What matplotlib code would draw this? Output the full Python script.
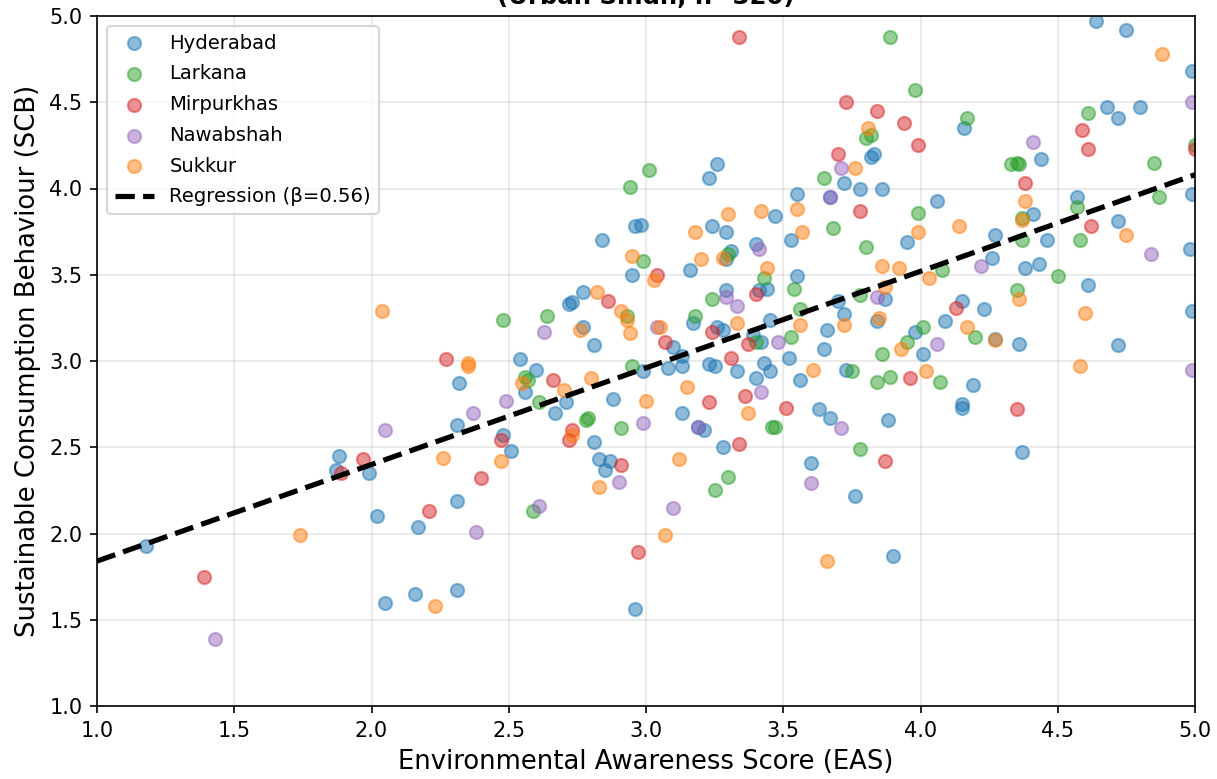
import matplotlib
matplotlib.use("Agg")
import matplotlib.pyplot as plt
import numpy as np

# ---- data ----
cities = ["Hyderabad", "Larkana", "Mirpurkhas", "Nawabshah", "Sukkur"]
city_colors = ["#1f77b4", "#2ca02c", "#d62728", "#9467bd", "#ff7f0e"]

hyd_x = [1.18, 1.88, 1.87, 1.99, 2.02, 2.05, 2.17, 2.16, 2.31, 2.31, 2.31, 2.32, 2.54, 2.51, 2.48,
         2.56, 2.60, 2.67, 2.71, 2.73, 2.72, 2.77, 2.77, 2.81, 2.81, 2.83, 2.85, 2.87, 2.84, 2.88,
         2.95, 2.96, 2.96, 2.98, 2.99, 3.08, 3.10, 3.13, 3.13, 3.16, 3.17, 3.13, 3.19, 3.21, 3.23,
         3.26, 3.23, 3.24, 3.26, 3.25, 3.28, 3.29, 3.29, 3.31, 3.29, 3.28, 3.33, 3.39, 3.40, 3.41,
         3.42, 3.43, 3.45, 3.45, 3.47, 3.44, 3.40, 3.52, 3.55, 3.53, 3.55, 3.56, 3.60, 3.63, 3.65,
         3.67, 3.66, 3.67, 3.70, 3.72, 3.72, 3.73, 3.76, 3.78, 3.82, 3.83, 3.84, 3.86, 3.88, 3.87,
         3.90, 3.95, 3.98, 4.01, 4.06, 4.09, 4.15, 4.15, 4.15, 4.16, 4.19, 4.23, 4.26, 4.27, 4.27,
         4.36, 4.37, 4.38, 4.41, 4.43, 4.44, 4.46, 4.57, 4.61, 4.64, 4.68, 4.72, 4.72, 4.72, 4.75,
         4.80, 4.99, 4.99, 4.98, 4.99]
hyd_y = [1.93, 2.45, 2.37, 2.35, 2.10, 1.60, 2.04, 1.65, 1.67, 2.19, 2.63, 2.87, 3.01, 2.48, 2.57,
         2.82, 2.95, 2.70, 2.76, 3.34, 3.33, 3.40, 3.20, 3.09, 2.53, 2.43, 2.37, 2.42, 3.70, 2.78,
         3.50, 1.56, 3.78, 3.79, 2.94, 2.96, 3.08, 3.03, 2.70, 3.53, 3.22, 2.97, 2.62, 2.60, 4.06,
         4.14, 2.98, 3.78, 3.20, 2.97, 2.50, 3.59, 3.41, 3.64, 3.75, 3.18, 2.94, 3.15, 3.68, 3.41,
         3.11, 2.99, 3.24, 2.94, 3.84, 3.42, 2.90, 3.02, 3.97, 3.70, 3.49, 2.89, 2.41, 2.72, 3.07,
         2.67, 3.18, 3.95, 3.35, 4.03, 3.27, 2.95, 2.22, 4.00, 4.18, 4.20, 3.23, 4.00, 2.66, 3.36,
         1.87, 3.69, 3.17, 3.04, 3.93, 3.23, 3.35, 2.75, 2.73, 4.35, 2.86, 3.30, 3.60, 3.73, 3.13,
         3.10, 2.47, 3.54, 3.85, 3.56, 4.17, 3.70, 3.95, 3.44, 4.97, 4.47, 4.41, 3.81, 3.09, 4.92,
         4.47, 4.68, 3.97, 3.65, 3.29]

lar_x = [2.48, 2.64, 2.56, 2.57, 2.61, 2.59, 2.78, 2.79, 2.91, 2.93, 2.94, 2.95, 2.99, 3.01, 3.18,
         3.24, 3.25, 3.30, 3.30, 3.40, 3.43, 3.46, 3.47, 3.54, 3.56, 3.53, 3.65, 3.68, 3.75, 3.78,
         3.80, 3.80, 3.82, 3.78, 3.84, 3.86, 3.89, 3.89, 3.95, 3.99, 3.98, 4.01, 4.07, 4.08, 4.17,
         4.20, 4.33, 4.35, 4.36, 4.35, 4.37, 4.37, 4.50, 4.57, 4.58, 4.61, 4.85, 4.87, 5.00]
lar_y = [3.24, 3.26, 2.91, 2.89, 2.76, 2.13, 2.66, 2.67, 2.61, 3.26, 4.01, 2.97, 3.58, 4.11, 3.26,
         3.36, 2.25, 2.33, 3.62, 3.11, 3.48, 2.62, 2.62, 3.42, 3.30, 3.14, 4.06, 3.77, 2.94, 2.49,
         3.66, 4.29, 4.31, 3.38, 2.88, 3.04, 2.91, 4.88, 3.11, 3.86, 4.57, 3.20, 2.88, 3.53, 4.41,
         3.14, 4.14, 4.15, 4.14, 3.41, 3.70, 3.83, 3.49, 3.89, 3.70, 4.44, 4.15, 3.95, 4.25]

mir_x = [1.39, 1.97, 1.89, 2.21, 2.27, 2.40, 2.47, 2.66, 2.72, 2.73, 2.86, 2.91, 2.97, 3.04, 3.07,
         3.23, 3.24, 3.31, 3.34, 3.34, 3.36, 3.37, 3.40, 3.51, 3.70, 3.73, 3.78, 3.84, 3.87, 3.94,
         3.96, 3.99, 4.13, 4.35, 4.38, 4.59, 4.61, 4.62, 5.00]
mir_y = [1.75, 2.43, 2.35, 2.13, 3.01, 2.32, 2.54, 2.89, 2.54, 2.60, 3.35, 2.40, 1.89, 3.50, 3.11,
         2.76, 3.17, 3.02, 4.88, 2.52, 2.80, 3.10, 3.39, 2.73, 4.20, 4.50, 3.87, 4.45, 2.42, 4.38,
         2.90, 4.25, 3.31, 2.72, 4.03, 4.34, 4.23, 3.78, 4.23]

naw_x = [1.43, 2.05, 2.37, 2.38, 2.49, 2.63, 2.61, 2.90, 2.99, 3.04, 3.10, 3.19, 3.29, 3.33, 3.41,
         3.42, 3.48, 3.60, 3.67, 3.71, 3.71, 3.84, 4.06, 4.22, 4.41, 4.84, 4.99, 4.99]
naw_y = [1.39, 2.60, 2.70, 2.01, 2.77, 3.17, 2.16, 2.30, 2.64, 3.20, 2.15, 2.62, 3.37, 3.32, 3.65,
         2.82, 3.11, 2.29, 3.95, 4.12, 2.61, 3.37, 3.10, 3.55, 4.27, 3.62, 2.95, 4.50]

suk_x = [1.74, 2.04, 2.26, 2.23, 2.35, 2.35, 2.47, 2.55, 2.70, 2.73, 2.76, 2.82, 2.80, 2.83, 2.91,
         2.93, 2.94, 2.95, 3.00, 3.03, 3.05, 3.07, 3.12, 3.15, 3.18, 3.20, 3.28, 3.30, 3.33, 3.37,
         3.42, 3.44, 3.55, 3.57, 3.56, 3.61, 3.66, 3.72, 3.76, 3.81, 3.86, 3.87, 3.85, 3.92, 3.93,
         3.99, 4.03, 4.02, 4.14, 4.17, 4.27, 4.36, 4.38, 4.37, 4.58, 4.60, 4.75, 4.88]
suk_y = [1.99, 3.29, 2.44, 1.58, 2.97, 2.99, 2.42, 2.87, 2.83, 2.57, 3.18, 3.40, 2.90, 2.27, 3.29,
         3.24, 3.16, 3.61, 2.77, 3.47, 3.20, 1.99, 2.43, 2.85, 3.75, 3.59, 3.60, 3.85, 3.22, 2.70,
         3.87, 3.54, 3.88, 3.75, 3.21, 2.95, 1.84, 3.21, 4.12, 4.35, 3.55, 3.43, 3.25, 3.54, 3.07,
         3.75, 3.48, 2.94, 3.78, 3.20, 3.12, 3.36, 3.93, 3.82, 2.97, 3.28, 3.73, 4.78]

reg_beta = 0.56
reg_intercept = 1.28

title_text = "(Urban Sindh, n=320)"
x_label = "Environmental Awareness Score (EAS)"
y_label = "Sustainable Consumption Behaviour (SCB)"

# ---- figure ----
W, H, DPI = 1217, 779, 150
fig = plt.figure(figsize=(W / DPI, H / DPI), dpi=DPI)
ax = fig.add_axes([97 / W, 1 - 706 / H, (1195 - 97) / W, (706 - 16) / H])

series_x = [hyd_x, lar_x, mir_x, naw_x, suk_x]
series_y = [hyd_y, lar_y, mir_y, naw_y, suk_y]
for name, col, xs, ys in zip(cities, city_colors, series_x, series_y):
    ax.scatter(xs, ys, s=40, color=col, alpha=0.5, label=name, zorder=2)

xl = np.linspace(1.0, 5.0, 100)
ax.plot(xl, reg_intercept + reg_beta * xl, "k--", lw=2.5,
        label=f"Regression (\u03b2={reg_beta:.2f})", zorder=3)

ax.set_xlim(1.0, 5.0)
ax.set_ylim(1.0, 5.0)
ax.set_xticks(np.arange(1.0, 5.01, 0.5))
ax.set_yticks(np.arange(1.0, 5.01, 0.5))
ax.grid(True, alpha=0.3, zorder=0)
ax.set_axisbelow(True)
ax.tick_params(labelsize=10)
ax.set_xlabel(x_label, fontsize=12.4)
ax.set_ylabel(y_label, fontsize=12.4)
ax.legend(loc="upper left", fontsize=9.4, handlelength=2.0, labelspacing=0.6)

fig.text((97 + 1195) / 2 / W, 1 - 9 / H, title_text, ha="center", va="bottom",
         fontsize=11.7, fontweight="bold")

fig.savefig("out.png", dpi=DPI)
